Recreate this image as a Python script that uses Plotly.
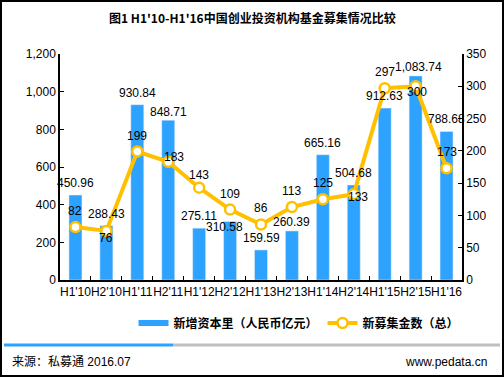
import plotly.graph_objects as go

categories = ["H1'10", "H2'10", "H1'11", "H2'11", "H1'12", "H2'12", "H1'13",
              "H2'13", "H1'14", "H2'14", "H1'15", "H2'15", "H1'16"]
capital = [450.96, 288.43, 930.84, 848.71, 275.11, 310.58, 159.59,
           260.39, 665.16, 504.68, 912.63, 1083.74, 788.68]
funds = [82, 76, 199, 183, 143, 109, 86, 113, 125, 133, 297, 300, 173]
y_left_ticks = [0, 200, 400, 600, 800, 1000, 1200]
y_right_ticks = [0, 50, 100, 150, 200, 250, 300, 350]

title_text = "图1 H1'10-H1'16中国创业投资机构基金募集情况比较"
bar_name = "新增资本里（人民币亿元）"
line_name = "新募集金数（总）"
source_text = "来源：私募通 2016.07"
site_text = "www.pedata.cn"

W, H = 504, 377
L, R, T, B = 60, 462, 54, 280
BLUE = "#2EA2FF"
GOLD = "#FFC000"
FONT = "Arial, Liberation Sans, Noto Sans CJK SC, sans-serif"

# label nudges (pixels) where the original chart moved its data labels
bar_label_nudge = {"H2'11": (0, -4), "H2'12": (-6, -17), "H2'13": (0, -3), "H2'15": (3, -3)}
line_label_nudge = {"H2'10": (0, -23), "H2'11": (6, -11), "H1'12": (0, -3),
                    "H2'14": (4, -19), "H2'15": (1, -22)}


def px(x):
    return (x - L) / (R - L)


def py(y):
    return (B - y) / (B - T)


fig = go.Figure()
fig.add_trace(go.Bar(
    x=categories, y=capital, name=bar_name, marker_color=BLUE,
    width=0.42, showlegend=False, hoverinfo="skip",
))
fig.add_trace(go.Scatter(
    x=[None], y=[None], mode="lines", name=bar_name,
    line=dict(color=BLUE, width=6), showlegend=True,
))
fig.add_trace(go.Scatter(
    x=categories, y=funds, yaxis="y2", name=line_name, mode="lines+markers",
    line=dict(color=GOLD, width=4),
    marker=dict(size=10, color="white", line=dict(color=GOLD, width=2.5)),
    cliponaxis=False, hoverinfo="skip",
))

for c, v in zip(categories, capital):
    dx, dy = bar_label_nudge.get(c, (0, 0))
    fig.add_annotation(x=c, y=v, xref="x", yref="y", text=f"{v:,.2f}",
                       showarrow=False, xanchor="center", yanchor="middle",
                       xshift=dx, yshift=12 + dy, font=dict(size=12, color="black"))
for c, v in zip(categories, funds):
    dx, dy = line_label_nudge.get(c, (0, 0))
    fig.add_annotation(x=c, y=v, xref="x", yref="y2", text=str(v),
                       showarrow=False, xanchor="center", yanchor="middle",
                       xshift=dx, yshift=16 + dy, font=dict(size=12, color="black"))

fig.update_layout(
    width=W, height=H,
    margin=dict(l=L, r=W - R, t=T, b=H - B, pad=0),
    paper_bgcolor="white", plot_bgcolor="white",
    font=dict(family=FONT, size=12, color="black"),
    hovermode=False,
    xaxis=dict(
        type="category", showline=True, linecolor="black", linewidth=1.5,
        ticks="inside", ticklen=4, tickcolor="black", tickson="boundaries",
        tickangle=0, showgrid=False, tickfont=dict(size=12), range=[-0.5, 12.5],
    ),
    yaxis=dict(
        range=[0, 1200], tickvals=y_left_ticks, tickformat=",", showline=True,
        linecolor="black", linewidth=1.5, ticks="inside", ticklen=4,
        tickcolor="black", showgrid=False, zeroline=False, tickfont=dict(size=12),
    ),
    yaxis2=dict(
        range=[0, 350], tickvals=y_right_ticks, overlaying="y", side="right",
        showline=True, linecolor="black", linewidth=1.5, ticks="inside", ticklen=4,
        tickcolor="black", showgrid=False, zeroline=False, tickfont=dict(size=12),
    ),
    legend=dict(
        orientation="h", x=px(299), y=py(323), xanchor="center", yanchor="middle",
        font=dict(size=12, color="black", family="Noto Sans CJK SC, sans-serif", weight="bold"),
        itemwidth=30, bgcolor="rgba(0,0,0,0)",
    ),
    showlegend=True,
)

fig.add_annotation(
    text=title_text, x=px(252), y=py(17), xref="paper", yref="paper",
    showarrow=False, xanchor="center", yanchor="middle",
    font=dict(size=12, family="Noto Sans CJK SC, Arial, sans-serif", weight="bold"),
)
fig.add_annotation(
    text=source_text, x=px(10), y=py(362), xref="paper", yref="paper",
    showarrow=False, xanchor="left", yanchor="middle", font=dict(size=12),
)
fig.add_annotation(
    text=site_text, x=px(489), y=py(362), xref="paper", yref="paper",
    showarrow=False, xanchor="right", yanchor="middle", font=dict(size=12),
)

# footer separator
fig.add_shape(type="line", xref="paper", yref="paper", x0=px(4), x1=px(173),
              y0=py(345), y1=py(345), line=dict(color=BLUE, width=3))
fig.add_shape(type="line", xref="paper", yref="paper", x0=px(173), x1=px(500),
              y0=py(345), y1=py(345), line=dict(color="#BFBFBF", width=3))
# outer border
fig.add_shape(type="rect", xref="paper", yref="paper", x0=px(1), x1=px(503),
              y0=py(1), y1=py(376), line=dict(color="black", width=2))

fig.write_html(
    "out.html",
    config={"displayModeBar": False},
    post_script="document.body.style.margin='0';document.body.style.overflow='hidden';",
)
